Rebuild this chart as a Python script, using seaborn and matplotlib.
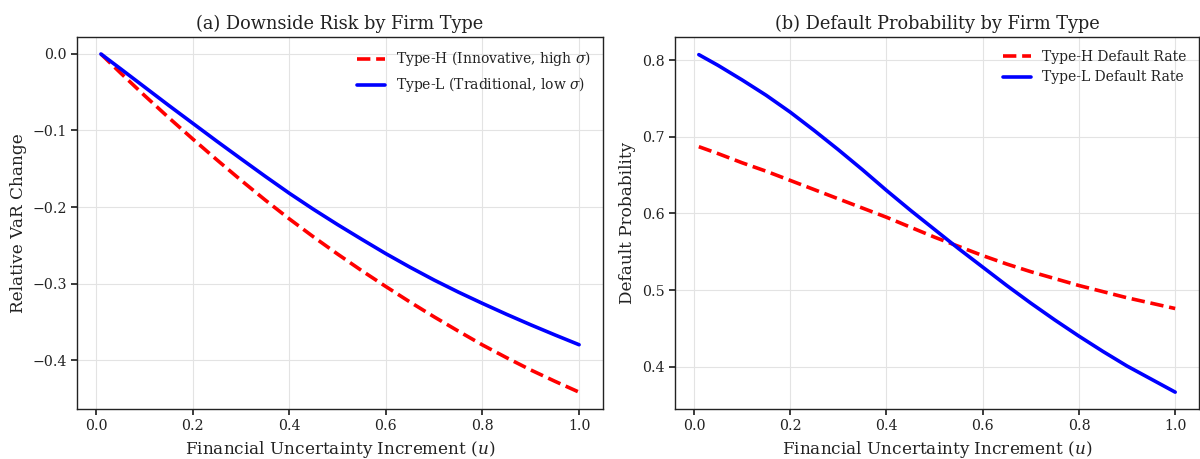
import numpy as np
import pandas as pd
import matplotlib
matplotlib.use("Agg")
import matplotlib.pyplot as plt
import seaborn as sns

u = [0.01, 0.05, 0.10, 0.15, 0.20, 0.25, 0.30, 0.35, 0.40, 0.45, 0.50,
     0.55, 0.60, 0.65, 0.70, 0.75, 0.80, 0.85, 0.90, 0.95, 1.00]
var_h = [0.0, -0.0244, -0.0541, -0.0830, -0.1110, -0.1383, -0.1650, -0.1908, -0.2155,
         -0.2390, -0.2615, -0.2832, -0.3040, -0.3242, -0.3436, -0.3622, -0.3803,
         -0.3970, -0.4130, -0.4278, -0.4420]
var_l = [0.0, -0.0190, -0.0430, -0.0670, -0.0905, -0.1140, -0.1370, -0.1598, -0.1820,
         -0.2030, -0.2230, -0.2422, -0.2610, -0.2787, -0.2955, -0.3112, -0.3260,
         -0.3403, -0.3540, -0.3672, -0.3800]
pd_h = [0.687, 0.678, 0.666, 0.655, 0.643, 0.631, 0.619, 0.607, 0.595, 0.582, 0.569,
        0.557, 0.545, 0.534, 0.524, 0.515, 0.506, 0.498, 0.490, 0.483, 0.476]
pd_l = [0.807, 0.793, 0.774, 0.754, 0.732, 0.708, 0.683, 0.657, 0.630, 0.604, 0.579,
        0.554, 0.530, 0.506, 0.483, 0.461, 0.440, 0.420, 0.401, 0.384, 0.367]

sns.set_theme(style="whitegrid")
plt.rcParams.update({
    "font.family": ["DejaVu Serif"],
    "mathtext.fontset": "dejavuserif",
    "axes.edgecolor": "#222222",
    "axes.linewidth": 1.0,
    "grid.color": "#e3e3e3",
    "grid.linewidth": 0.8,
    "xtick.bottom": True,
    "ytick.left": True,
    "xtick.major.size": 4,
    "ytick.major.size": 4,
    "xtick.color": "#222222",
    "ytick.color": "#222222",
    "text.color": "#222222",
    "axes.labelcolor": "#222222",
})

W, H = 1200, 459
fig = plt.figure(figsize=(12, 4.59), dpi=100)
ax1 = fig.add_axes([77 / W, (H - 409) / H, 526 / W, 372 / H])
ax2 = fig.add_axes([675 / W, (H - 409) / H, 524 / W, 372 / H])

df1 = pd.DataFrame({"u": u, "H": var_h, "L": var_l})
ax = ax1
sns.lineplot(data=df1, x="u", y="H", ax=ax, color="red", linestyle="--", linewidth=2.6,
             label=r"Type-H (Innovative, high $\sigma$)")
sns.lineplot(data=df1, x="u", y="L", ax=ax, color="blue", linewidth=2.6,
             label=r"Type-L (Traditional, low $\sigma$)")
ax.set_title("(a) Downside Risk by Firm Type", fontsize=12.8)
ax.set_xlabel(r"Financial Uncertainty Increment ($u$)", fontsize=12.2)
ax.set_ylabel("Relative VaR Change", fontsize=12.2)
ax.set_xticks([0.0, 0.2, 0.4, 0.6, 0.8, 1.0])
ax.set_yticks([0.0, -0.1, -0.2, -0.3, -0.4])
ax.set_ylim(-0.464, 0.0222)

df2 = pd.DataFrame({"u": u, "H": pd_h, "L": pd_l})
ax = ax2
sns.lineplot(data=df2, x="u", y="H", ax=ax, color="red", linestyle="--", linewidth=2.6,
             label="Type-H Default Rate")
sns.lineplot(data=df2, x="u", y="L", ax=ax, color="blue", linewidth=2.6,
             label="Type-L Default Rate")
ax.set_title("(b) Default Probability by Firm Type", fontsize=12.8)
ax.set_xlabel(r"Financial Uncertainty Increment ($u$)", fontsize=12.2)
ax.set_ylabel("Default Probability", fontsize=12.2)
ax.set_xticks([0.0, 0.2, 0.4, 0.6, 0.8, 1.0])
ax.set_yticks([0.4, 0.5, 0.6, 0.7, 0.8])
ax.set_ylim(0.345, 0.830)

for ax in (ax1, ax2):
    ax.tick_params(labelsize=10.2)
    ax.legend(loc="upper right", fontsize=10, frameon=False)
    for s in ax.spines.values():
        s.set_visible(True)

fig.savefig("out.png", dpi=100)
